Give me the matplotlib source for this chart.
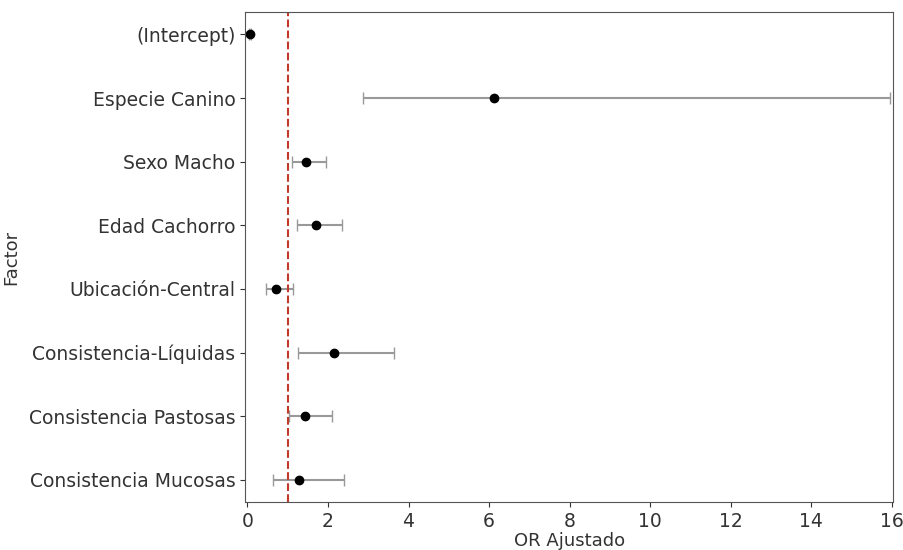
import numpy as np
import matplotlib
matplotlib.use('Agg')
import matplotlib.pyplot as plt

# Data
factors = ['(Intercept)', 'Especie Canino', 'Sexo Macho', 'Edad Cachorro',
           'Ubicación-Central', 'Consistencia-Líquidas', 'Consistencia Pastosas',
           'Consistencia Mucosas']
odds = [0.07, 6.13, 1.46, 1.71, 0.71, 2.14, 1.43, 1.27]
ci_low = [0.05, 2.87, 1.11, 1.24, 0.45, 1.25, 1.04, 0.63]
ci_high = [0.09, 15.94, 1.95, 2.36, 1.14, 3.64, 2.10, 2.39]

odds = np.array(odds)
err = [odds - np.array(ci_low), np.array(ci_high) - odds]
ypos = np.arange(len(factors))

fig = plt.figure(figsize=(9.04, 5.5), dpi=100)
ax = fig.add_axes([0.271, 0.087, 0.717, 0.891])

ax.errorbar(odds, ypos, xerr=err, fmt='o', color='black', ecolor='#999999',
            elinewidth=1.5, capsize=4.5, markersize=6)
ax.axvline(1, color='#c0392b', linestyle='--', linewidth=1.5)

ax.set_yticks(ypos)
ax.set_yticklabels(factors)
ax.invert_yaxis()
ax.set_xlim(-0.06, 16.03)
ax.set_xticks(range(0, 17, 2))
ax.tick_params(labelsize=13.5, colors='#333333')
ax.set_xlabel('OR Ajustado', fontsize=13, color='#333333', labelpad=1)
ax.set_ylabel('Factor', fontsize=13, color='#333333', labelpad=6)
for s in ax.spines.values():
    s.set_color('#555555')

fig.savefig('out.png', dpi=100)
